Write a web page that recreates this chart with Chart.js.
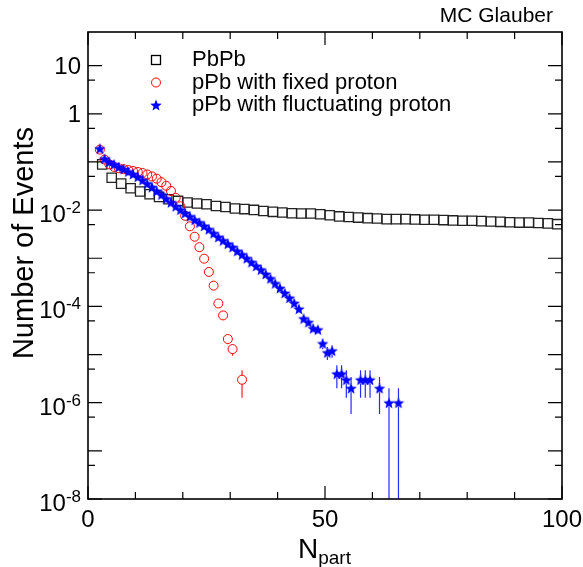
<!DOCTYPE html>
<html>
<head>
<meta charset="utf-8">
<script src="https://cdn.jsdelivr.net/npm/chart.js@4.4.1/dist/chart.umd.min.js"></script>
<style>
  html, body { margin: 0; padding: 0; background: #fff; }
  #wrap { width: 583px; height: 567px; }
</style>
</head>
<body>
<div id="wrap"><canvas id="glauberChart" width="583" height="567"></canvas></div>
<script>
// ===== data =====
// PbPb (bins of width 2)
const pbpbNpart = [3,5,7,9,11,13,15,17,19,21,23,25,27,29,31,33,35,37,39,41,43,45,47,49,
  51,53,55,57,59,61,63,65,67,69,71,73,75,77,79,81,83,85,87,89,91,93,95,97,99];
const pbpbEvents = [0.089,0.047,0.0355,0.0284,0.0243,0.0214,0.0188,0.0168,0.0155,0.0144,0.0137,0.0132,
  0.0122,0.0116,0.0108,0.0105,0.0101,0.0096,0.0092,0.0089,0.0086,0.0085,0.0085,0.0082,0.0078,0.0074,
  0.0072,0.0070,0.0068,0.0067,0.0065,0.0065,0.0065,0.0064,0.0063,0.0063,0.0062,0.0061,0.0060,0.0060,
  0.0059,0.0058,0.0057,0.0056,0.0055,0.0055,0.0054,0.0053,0.0051];

// pPb, fixed proton
const fixedNpart = [2.5,3.5,4.5,5.5,6.5,7.5,8.5,9.5,10.5,11.5,12.5,13.5,14.5,15.5,16.5,17.5,18.5,19.5,
  20.5,21.5,22.5,23.5,24.5,25.5,26.5,27.5,28.5,29.5,30.5,32.5];
const fixedEvents = [0.18,0.112,0.089,0.079,0.074,0.071,0.068,0.065,0.062,0.059,0.055,0.050,0.045,0.038,
  0.032,0.025,0.018,0.012,0.0076,0.0046,0.0028,0.0017,0.00098,0.00052,0.00027,0.000115,0.000065,
  0.000021,0.000013,0.000003];

// pPb, fluctuating proton
const flucNpart = [2.5,3.5,4.5,5.5,6.5,7.5,8.5,9.5,10.5,11.5,12.5,13.5,14.5,15.5,16.5,17.5,18.5,19.5,
  20.5,21.5,22.5,23.5,24.5,25.5,26.5,27.5,28.5,29.5,30.5,31.5,32.5,33.5,34.5,35.5,36.5,37.5,38.5,39.5,
  40.5,41.5,42.5,43.5,44.5,45.5,46.5,47.5,48.5,49.5,50.5,51.5,52.5,53.5,54.5,55.5,57.5,58.5,59.5,
  61.5,63.5,65.5];
const flucEvents = [0.19,0.117,0.100,0.089,0.079,0.071,0.063,0.056,0.049,0.042,0.0355,0.030,0.025,0.021,
  0.0174,0.0145,0.012,0.0102,0.0087,0.0074,0.0063,0.0055,0.0047,0.0040,0.0033,0.00275,0.00234,0.0020,
  0.0017,0.00141,0.0012,0.0010,0.00083,0.00069,0.00058,0.00047,0.00038,0.0003,0.00024,0.00019,0.00015,
  0.000117,0.000089,0.000056,0.000047,0.000035,0.000033,0.000017,0.000011,0.000012,0.000004,0.000004,
  0.000003,0.000002,0.000003,0.000003,0.000003,0.000002,0.000001,0.000001];

const nEventsGenerated = 1e6; // statistical error = sqrt(N)/N_gen

const seriesLabels = ['PbPb', 'pPb with fixed proton', 'pPb with fluctuating proton'];
const xTickValues = [0, 50, 100];
const xTickLabels = ['0', '50', '100'];
const yTickValues = [10, 1, 1e-2, 1e-4, 1e-6, 1e-8];
const yTickBase = ['10', '1', '10', '10', '10', '10'];
const yTickExp = ['', '', '-2', '-4', '-6', '-8'];

const FONT = '"Liberation Sans", Arial, Helvetica, sans-serif';

// filled 5-point star used as marker
function makeStar(color, R, ratio) {
    const size = Math.ceil(R * 2 + 2);
    const c = document.createElement('canvas');
    c.width = size; c.height = size;
    const g = c.getContext('2d');
    g.fillStyle = color;
    g.beginPath();
    for (let i = 0; i < 10; i++) {
        const r = i % 2 === 0 ? R : R * ratio;
        const a = -Math.PI / 2 + i * Math.PI / 5;
        g.lineTo(size / 2 + r * Math.cos(a), size / 2 + 0.6 + r * Math.sin(a));
    }
    g.closePath();
    g.fill();
    return c;
}
const starMarker = makeStar('#0000ff', 6, 0.43);

function toPoints(xs, ys) {
    return xs.map((x, i) => ({ x: x, y: ys[i] }));
}

// error bars drawn under the markers, with a gap where the marker sits
const errorBarPlugin = {
    id: 'errorBars',
    beforeDatasetsDraw(chart) {
        const ctx = chart.ctx;
        const area = chart.chartArea;
        const xs = chart.scales.x, ys = chart.scales.y;
        ctx.save();
        ctx.beginPath();
        ctx.rect(area.left, area.top, area.right - area.left, area.bottom - area.top);
        ctx.clip();
        chart.data.datasets.forEach(ds => {
            if (!ds.errGap) return;
            ctx.strokeStyle = ds.errColor;
            ctx.lineWidth = 1.2;
            ds.data.forEach(p => {
                const err = Math.sqrt(p.y * nEventsGenerated) / nEventsGenerated;
                const px = xs.getPixelForValue(p.x);
                const py = ys.getPixelForValue(p.y);
                const top = ys.getPixelForValue(p.y + err);
                const low = p.y - err > 1e-12 ? ys.getPixelForValue(p.y - err) : area.bottom;
                ctx.beginPath();
                if (py - ds.errGap > top) { ctx.moveTo(px, top); ctx.lineTo(px, py - ds.errGap); }
                if (py + ds.errGap < low) { ctx.moveTo(px, py + ds.errGap); ctx.lineTo(px, low); }
                ctx.stroke();
            });
        });
        ctx.restore();
    }
};

// frame, inward ticks, labels, titles, legend (ROOT style)
const framePlugin = {
    id: 'rootFrame',
    afterDraw(chart) {
        const ctx = chart.ctx;
        const a = chart.chartArea;
        const xs = chart.scales.x, ys = chart.scales.y;
        ctx.save();
        ctx.strokeStyle = '#000';
        ctx.lineWidth = 1.6;
        ctx.strokeRect(a.left, a.top, a.right - a.left, a.bottom - a.top);

        ctx.lineWidth = 1.2;
        ctx.beginPath();
        for (let v = 0; v <= 100; v += 10) {
            const px = xs.getPixelForValue(v);
            const len = v % 50 === 0 ? 13 : 7;
            ctx.moveTo(px, a.bottom); ctx.lineTo(px, a.bottom - len);
            ctx.moveTo(px, a.top); ctx.lineTo(px, a.top + len);
        }
        for (let k = -8; k <= 1; k++) {
            const py = ys.getPixelForValue(Math.pow(10, k));
            ctx.moveTo(a.left, py); ctx.lineTo(a.left + 14, py);
            ctx.moveTo(a.right, py); ctx.lineTo(a.right - 14, py);
            if (k > -8) {
                const pm = ys.getPixelForValue(5 * Math.pow(10, k - 1));
                ctx.moveTo(a.left, pm); ctx.lineTo(a.left + 7, pm);
                ctx.moveTo(a.right, pm); ctx.lineTo(a.right - 7, pm);
            }
        }
        ctx.stroke();

        ctx.fillStyle = '#000';
        // x tick labels
        ctx.font = '24px ' + FONT;
        ctx.textAlign = 'center';
        ctx.textBaseline = 'alphabetic';
        xTickValues.forEach((v, i) => {
            ctx.fillText(xTickLabels[i], xs.getPixelForValue(v), 527);
        });
        // y tick labels
        ctx.textAlign = 'right';
        yTickValues.forEach((v, i) => {
            const py = ys.getPixelForValue(v);
            let xr = 81;
            if (yTickExp[i]) {
                ctx.font = '17px ' + FONT;
                ctx.fillText(yTickExp[i], xr, py + 3);
                xr -= ctx.measureText(yTickExp[i]).width;
                ctx.font = '24px ' + FONT;
                ctx.fillText(yTickBase[i], xr, py + 12);
            } else {
                ctx.font = '24px ' + FONT;
                ctx.fillText(yTickBase[i], xr, py + 8.5);
            }
        });

        // x title N_part
        ctx.textAlign = 'left';
        ctx.font = '28px ' + FONT;
        const wN = ctx.measureText('N').width;
        ctx.font = '19px ' + FONT;
        const wSub = ctx.measureText('part').width;
        const x0 = 324.5 - (wN + wSub) / 2;
        ctx.font = '28px ' + FONT;
        ctx.fillText('N', x0, 558);
        ctx.font = '19px ' + FONT;
        ctx.fillText('part', x0 + wN, 564);

        // y title
        ctx.save();
        ctx.translate(33, 127);
        ctx.rotate(-Math.PI / 2);
        ctx.font = '29px ' + FONT;
        ctx.textAlign = 'right';
        ctx.fillText('Number of Events', 0, 0);
        ctx.restore();

        // MC Glauber
        ctx.font = '21px ' + FONT;
        ctx.textAlign = 'right';
        ctx.fillText('MC Glauber', 553, 22);

        // legend
        const lx = 156, tx = 192;
        const base = [66, 88.5, 111];
        ctx.font = '22px ' + FONT;
        ctx.textAlign = 'left';
        seriesLabels.forEach((lab, i) => ctx.fillText(lab, tx, base[i]));
        ctx.lineWidth = 1.3;
        ctx.strokeStyle = '#000';
        ctx.strokeRect(lx - 4.5, base[0] - 6 - 4.5, 9, 9);
        ctx.strokeStyle = '#ff0000';
        ctx.lineWidth = 1;
        ctx.beginPath();
        ctx.arc(lx, base[1] - 6, 4.5, 0, Math.PI * 2);
        ctx.stroke();
        ctx.drawImage(starMarker, lx - starMarker.width / 2, base[2] - 6 - starMarker.height / 2);
        ctx.restore();
    }
};

new Chart(document.getElementById('glauberChart'), {
    type: 'scatter',
    data: {
        datasets: [
            {
                label: seriesLabels[0],
                data: toPoints(pbpbNpart, pbpbEvents),
                pointStyle: 'rect',
                pointRadius: 6.6,
                pointBorderWidth: 1.3,
                pointBorderColor: '#222',
                pointBackgroundColor: 'rgba(0,0,0,0)',
                order: 3
            },
            {
                label: seriesLabels[1],
                data: toPoints(fixedNpart, fixedEvents),
                pointStyle: 'circle',
                pointRadius: 4.5,
                pointBorderWidth: 1,
                pointBorderColor: '#ff0000',
                pointBackgroundColor: 'rgba(0,0,0,0)',
                errGap: 4.5,
                errColor: '#ff2020',
                order: 2
            },
            {
                label: seriesLabels[2],
                data: toPoints(flucNpart, flucEvents),
                pointStyle: starMarker,
                pointRadius: 6,
                errGap: 4,
                errColor: '#2a2aff',
                order: 1
            }
        ]
    },
    options: {
        responsive: false,
        animation: false,
        devicePixelRatio: 1,
        layout: { padding: { left: 88, right: 21, top: 32, bottom: 68 } },
        plugins: { legend: { display: false }, tooltip: { enabled: false } },
        scales: {
            x: { type: 'linear', min: 0, max: 100, display: false },
            y: { type: 'logarithmic', min: 1e-8, max: 50, display: false }
        }
    },
    plugins: [errorBarPlugin, framePlugin]
});
</script>
</body>
</html>
